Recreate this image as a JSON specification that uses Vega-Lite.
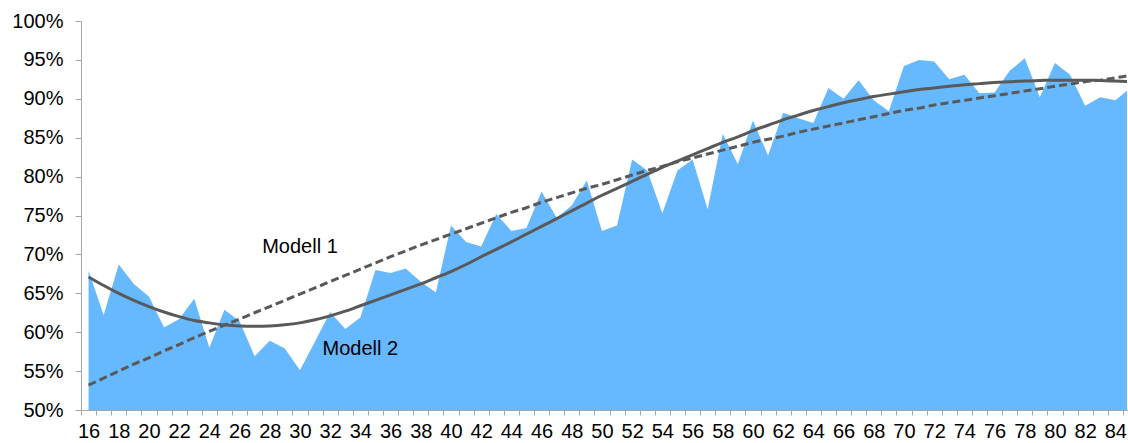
{
  "$schema": "https://vega.github.io/schema/vega-lite/v6.json",
  "width": 1046,
  "height": 389,
  "autosize": {"type": "none"},
  "padding": {"left": 81, "top": 21, "right": 1, "bottom": 33},
  "config": {
    "view": {"stroke": null},
    "font": "Liberation Sans",
    "axis": {"labelFont": "Liberation Sans", "labelFontSize": 20, "labelColor": "#000000", "domainColor": "#a6a6a6", "tickColor": "#a6a6a6", "grid": false, "title": null},
    "axisY": {"values": [0.5,0.55,0.6,0.65,0.7,0.75,0.8,0.85,0.9,0.95,1.0], "format": ".0%", "tickSize": 6, "labelPadding": 12, "labelOverlap": false}
  },
  "data": {"values": [
    {"age":16,"beob":0.679,"m1":0.532,"m2":0.671},
    {"age":17,"beob":0.622,"m1":0.541,"m2":0.660},
    {"age":18,"beob":0.687,"m1":0.550,"m2":0.650},
    {"age":19,"beob":0.662,"m1":0.559,"m2":0.641},
    {"age":20,"beob":0.646,"m1":0.567,"m2":0.633},
    {"age":21,"beob":0.606,"m1":0.576,"m2":0.626},
    {"age":22,"beob":0.617,"m1":0.584,"m2":0.620},
    {"age":23,"beob":0.643,"m1":0.593,"m2":0.615},
    {"age":24,"beob":0.580,"m1":0.601,"m2":0.612},
    {"age":25,"beob":0.629,"m1":0.609,"m2":0.6095},
    {"age":26,"beob":0.614,"m1":0.617,"m2":0.608},
    {"age":27,"beob":0.569,"m1":0.625,"m2":0.6075},
    {"age":28,"beob":0.589,"m1":0.633,"m2":0.608},
    {"age":29,"beob":0.579,"m1":0.641,"m2":0.6095},
    {"age":30,"beob":0.551,"m1":0.649,"m2":0.612},
    {"age":31,"beob":0.588,"m1":0.657,"m2":0.616},
    {"age":32,"beob":0.626,"m1":0.665,"m2":0.621},
    {"age":33,"beob":0.604,"m1":0.673,"m2":0.627},
    {"age":34,"beob":0.619,"m1":0.681,"m2":0.634},
    {"age":35,"beob":0.680,"m1":0.689,"m2":0.641},
    {"age":36,"beob":0.676,"m1":0.697,"m2":0.648},
    {"age":37,"beob":0.682,"m1":0.7045,"m2":0.655},
    {"age":38,"beob":0.665,"m1":0.712,"m2":0.662},
    {"age":39,"beob":0.651,"m1":0.719,"m2":0.670},
    {"age":40,"beob":0.737,"m1":0.726,"m2":0.678},
    {"age":41,"beob":0.716,"m1":0.733,"m2":0.687},
    {"age":42,"beob":0.710,"m1":0.740,"m2":0.697},
    {"age":43,"beob":0.752,"m1":0.747,"m2":0.7065},
    {"age":44,"beob":0.730,"m1":0.754,"m2":0.716},
    {"age":45,"beob":0.734,"m1":0.760,"m2":0.726},
    {"age":46,"beob":0.781,"m1":0.767,"m2":0.736},
    {"age":47,"beob":0.747,"m1":0.773,"m2":0.746},
    {"age":48,"beob":0.763,"m1":0.779,"m2":0.756},
    {"age":49,"beob":0.795,"m1":0.785,"m2":0.766},
    {"age":50,"beob":0.730,"m1":0.790,"m2":0.776},
    {"age":51,"beob":0.737,"m1":0.796,"m2":0.785},
    {"age":52,"beob":0.822,"m1":0.802,"m2":0.794},
    {"age":53,"beob":0.808,"m1":0.808,"m2":0.803},
    {"age":54,"beob":0.753,"m1":0.813,"m2":0.812},
    {"age":55,"beob":0.808,"m1":0.819,"m2":0.820},
    {"age":56,"beob":0.822,"m1":0.824,"m2":0.828},
    {"age":57,"beob":0.758,"m1":0.829,"m2":0.836},
    {"age":58,"beob":0.855,"m1":0.834,"m2":0.844},
    {"age":59,"beob":0.816,"m1":0.839,"m2":0.851},
    {"age":60,"beob":0.872,"m1":0.844,"m2":0.859},
    {"age":61,"beob":0.827,"m1":0.848,"m2":0.866},
    {"age":62,"beob":0.882,"m1":0.852,"m2":0.873},
    {"age":63,"beob":0.875,"m1":0.857,"m2":0.879},
    {"age":64,"beob":0.869,"m1":0.861,"m2":0.885},
    {"age":65,"beob":0.914,"m1":0.865,"m2":0.890},
    {"age":66,"beob":0.900,"m1":0.869,"m2":0.895},
    {"age":67,"beob":0.924,"m1":0.873,"m2":0.899},
    {"age":68,"beob":0.898,"m1":0.877,"m2":0.903},
    {"age":69,"beob":0.884,"m1":0.881,"m2":0.906},
    {"age":70,"beob":0.942,"m1":0.885,"m2":0.909},
    {"age":71,"beob":0.950,"m1":0.888,"m2":0.912},
    {"age":72,"beob":0.948,"m1":0.892,"m2":0.914},
    {"age":73,"beob":0.925,"m1":0.895,"m2":0.916},
    {"age":74,"beob":0.931,"m1":0.898,"m2":0.918},
    {"age":75,"beob":0.907,"m1":0.901,"m2":0.9195},
    {"age":76,"beob":0.908,"m1":0.904,"m2":0.921},
    {"age":77,"beob":0.936,"m1":0.907,"m2":0.922},
    {"age":78,"beob":0.952,"m1":0.910,"m2":0.923},
    {"age":79,"beob":0.902,"m1":0.913,"m2":0.9235},
    {"age":80,"beob":0.946,"m1":0.916,"m2":0.924},
    {"age":81,"beob":0.931,"m1":0.919,"m2":0.924},
    {"age":82,"beob":0.891,"m1":0.922,"m2":0.924},
    {"age":83,"beob":0.902,"m1":0.924,"m2":0.9235},
    {"age":84,"beob":0.898,"m1":0.927,"m2":0.923},
    {"age":85,"beob":0.914,"m1":0.930,"m2":0.922}
  ]},
  "encoding": {
    "x": {
      "field": "age",
      "type": "ordinal",
      "bandPosition": 0.5,
      "scale": {"type": "band", "domain": [16,17,18,19,20,21,22,23,24,25,26,27,28,29,30,31,32,33,34,35,36,37,38,39,40,41,42,43,44,45,46,47,48,49,50,51,52,53,54,55,56,57,58,59,60,61,62,63,64,65,66,67,68,69,70,71,72,73,74,75,76,77,78,79,80,81,82,83,84,85], "range": [0, 1057], "paddingInner": 0, "paddingOuter": 0},
      "axis": {"tickBand": "extent", "tickSize": 5, "labelPadding": 6, "labelAngle": 0, "labelOverlap": false, "labelExpr": "datum.value % 2 == 0 ? datum.label : ''"}
    }
  },
  "layer": [
    {
      "mark": {"type": "area", "color": "#66b8ff", "clip": true},
      "encoding": {
        "y": {"field": "beob", "type": "quantitative", "stack": null,
          "scale": {"domain": [0.5, 1], "zero": false, "nice": false}}
      }
    },
    {
      "mark": {"type": "line", "color": "#595959", "strokeWidth": 3, "strokeDash": [8, 4], "interpolate": "monotone", "clip": true},
      "encoding": {"y": {"field": "m1", "type": "quantitative"}}
    },
    {
      "mark": {"type": "line", "color": "#595959", "strokeWidth": 3, "interpolate": "monotone", "clip": true},
      "encoding": {"y": {"field": "m2", "type": "quantitative"}}
    },
    {
      "data": {"values": [
        {"age": 30, "v": 0.71, "label": "Modell 1"},
        {"age": 34, "v": 0.579, "label": "Modell 2"}
      ]},
      "mark": {"type": "text", "font": "Liberation Sans", "fontSize": 20, "color": "#000000", "align": "center", "baseline": "middle"},
      "encoding": {
        "y": {"field": "v", "type": "quantitative"},
        "text": {"field": "label"}
      }
    }
  ]
}
